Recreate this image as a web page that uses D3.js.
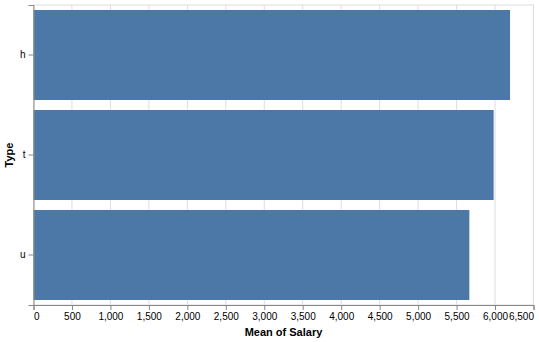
<!DOCTYPE html>
<html>
<head>
<meta charset="utf-8">
<script src="https://cdn.jsdelivr.net/npm/d3@7"></script>
<style>
  body { margin: 0; background: #fff; }
  text { font-family: "Liberation Sans", Arial, Helvetica, sans-serif; }
</style>
</head>
<body>
<svg id="chart" width="539" height="342"></svg>
<script>
const types = ["h", "t", "u"];
const meanSalary = [6195, 5982, 5666];
const xTicks = [0, 500, 1000, 1500, 2000, 2500, 3000, 3500, 4000, 4500, 5000, 5500, 6000, 6500];

const data = types.map((t, i) => ({type: t, value: meanSalary[i]}));

const margin = {left: 33.5, top: 5};
const width = 500, height = 300;

const svg = d3.select("#chart");
const g = svg.append("g").attr("transform", `translate(${margin.left},${margin.top})`);

const x = d3.scaleLinear().domain([0, 6500]).range([0, width]);
const y = d3.scaleBand().domain(types).range([0, height]).paddingInner(0.1).paddingOuter(0.05);

// view border + grid
g.append("rect")
  .attr("width", width).attr("height", height)
  .attr("fill", "none").attr("stroke", "#ddd");

g.selectAll("line.grid")
  .data(xTicks)
  .enter()
  .append("line")
  .attr("class", "grid")
  .attr("x1", d => x(d)).attr("x2", d => x(d))
  .attr("y1", 0).attr("y2", height)
  .attr("stroke", "#ddd");

g.selectAll("rect.bar")
  .data(data)
  .enter()
  .append("rect")
  .attr("class", "bar")
  .attr("x", 0)
  .attr("y", d => y(d.type))
  .attr("width", d => x(d.value))
  .attr("height", y.bandwidth())
  .attr("fill", "#4c78a8");

// x axis
const xAxis = g.append("g")
  .attr("transform", `translate(0,${height})`)
  .call(d3.axisBottom(x).tickValues(xTicks).tickSize(5).tickPadding(3).tickFormat(d3.format(",")));
xAxis.select(".domain").attr("stroke", "#888");
xAxis.selectAll(".tick line").attr("stroke", "#888");
xAxis.selectAll(".tick text").attr("font-size", 10).attr("fill", "#000").attr("font-family", null);
xAxis.selectAll(".tick text")
  .filter(d => d === 0).attr("text-anchor", "start");
xAxis.selectAll(".tick text")
  .filter(d => d === 6500).attr("text-anchor", "end");

// y axis
const yAxis = g.append("g")
  .call(d3.axisLeft(y).tickSize(5).tickPadding(3));
yAxis.select(".domain").attr("stroke", "#888");
yAxis.selectAll(".tick line").attr("stroke", "#888");
yAxis.selectAll(".tick text").attr("font-size", 10).attr("fill", "#000").attr("font-family", null);

// titles
g.append("text")
  .attr("x", width / 2)
  .attr("y", height + 31)
  .attr("text-anchor", "middle")
  .attr("font-size", 11)
  .attr("font-weight", "bold")
  .text("Mean of Salary");

g.append("text")
  .attr("transform", `translate(${-21},${height / 2}) rotate(-90)`)
  .attr("text-anchor", "middle")
  .attr("font-size", 11)
  .attr("font-weight", "bold")
  .text("Type");
</script>
</body>
</html>
